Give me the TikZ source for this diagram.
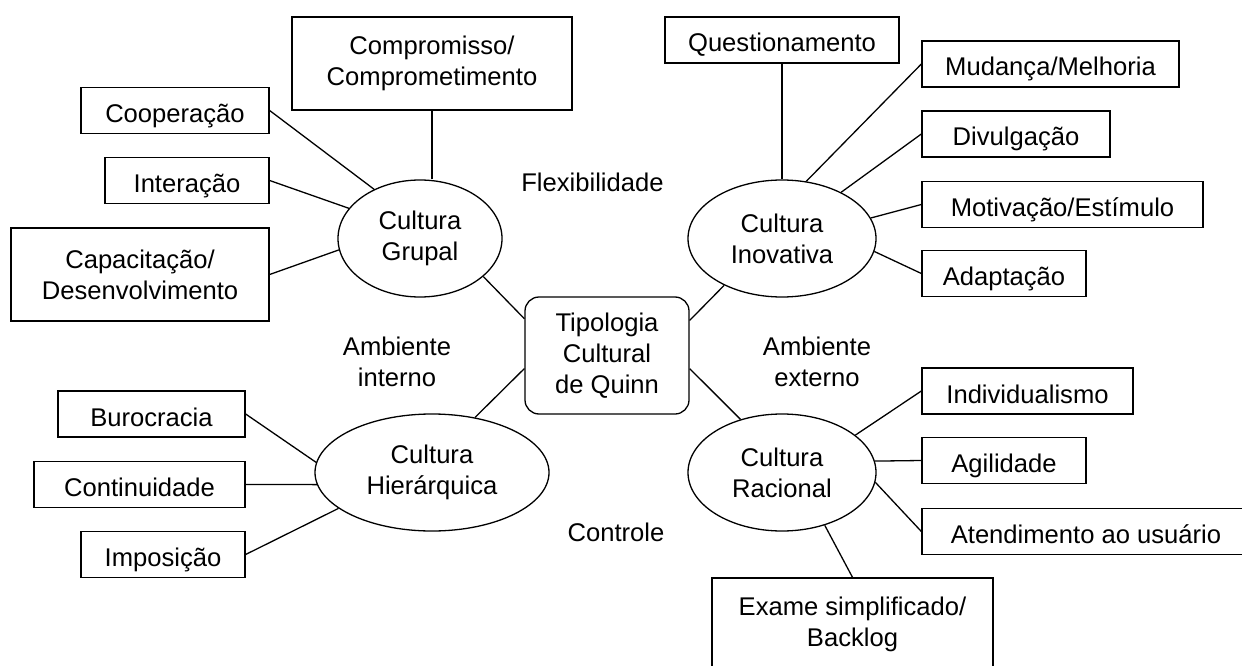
\documentclass[tikz,border=0pt]{standalone}
\usepackage{fontspec}
\setmainfont{Liberation Sans}
\usepackage{tikz}
\usetikzlibrary{shapes.geometric}

\begin{document}
\begin{tikzpicture}[x=1pt, y=-1pt, line width=1.3pt,
    every node/.style={font=\fontsize{25.6}{31}\selectfont, align=center, inner sep=0pt},
    box/.style={draw, rectangle, minimum height=46pt, text height=24pt, text depth=0pt},
    bigbox/.style={draw, rectangle, minimum height=93pt},
    cultura/.style={draw, ellipse, minimum height=117pt}]
    \useasboundingbox (0,0) rectangle (1242,666);

    % centro
    \node[draw, rectangle, rounded corners=14pt, minimum width=164pt, minimum height=117pt] (quinn) at (607,355.5) {Tipologia\\Cultural\\de Quinn};

    % as quatro culturas
    \node[cultura, minimum width=164pt] (grupal) at (420,238.5) {Cultura\\Grupal};
    \node[cultura, minimum width=188pt] (inovativa) at (782,238.5) {Cultura\\Inovativa};
    \node[cultura, minimum width=234pt] (hierarquica) at (432,472.5) {Cultura\\Hier\'arquica};
    \node[cultura, minimum width=188pt] (racional) at (782,472.5) {Cultura\\Racional};

    % eixos
    \node (flex) at (592.5,182) {Flexibilidade};
    \node (interno) at (397,361.5) {Ambiente\\interno};
    \node (externo) at (817,361.5) {Ambiente\\externo};
    \node (controle) at (616,532) {Controle};

    % grupal
    \node[bigbox, minimum width=280pt] (compromisso) at (432,63.5) {Compromisso/\\Comprometimento};
    \node[box, minimum width=188pt] (cooperacao) at (175,110.5) {Coopera\c{c}\~ao};
    \node[box, minimum width=164pt] (interacao) at (187,180.5) {Intera\c{c}\~ao};
    \node[bigbox, minimum width=258pt] (capacitacao) at (140,274.5) {Capacita\c{c}\~ao/\\Desenvolvimento};

    % inovativa
    \node[box, minimum width=234pt] (questionamento) at (782,40) {Questionamento};
    \node[box, minimum width=257pt] (mudanca) at (1050.5,64) {Mudan\c{c}a/Melhoria};
    \node[box, minimum width=188pt] (divulgacao) at (1016,134) {Divulga\c{c}\~ao};
    \node[box, minimum width=281pt] (motivacao) at (1062.5,204.5) {Motiva\c{c}\~ao/Est\'imulo};
    \node[box, minimum width=164pt] (adaptacao) at (1004,273.5) {Adapta\c{c}\~ao};

    % hierarquica
    \node[box, minimum width=187pt] (burocracia) at (151.5,414) {Burocracia};
    \node[box, minimum width=211pt] (continuidade) at (139.5,484.5) {Continuidade};
    \node[box, minimum width=164pt] (imposicao) at (163,554.5) {Imposi\c{c}\~ao};

    % racional
    \node[box, minimum width=211pt] (individualismo) at (1027.5,391) {Individualismo};
    \node[box, minimum width=164pt] (agilidade) at (1004,460.5) {Agilidade};
    \node[box, minimum width=328pt] (atendimento) at (1086,531.5) {Atendimento ao usu\'ario};
    \node[bigbox, minimum width=281pt] (exame) at (852.5,624.5) {Exame simplificado/\\Backlog};

    % ligacoes
    \draw (quinn.156) -- (grupal.-31);
    \draw (quinn.23) -- (inovativa.219);
    \draw (quinn.189) -- (hierarquica.52);
    \draw (quinn.-9) -- (racional.128);

    \draw (compromisso.south) -- (compromisso.south |- grupal.north);
    \draw (cooperacao.east) -- (grupal.133);
    \draw (interacao.east) -- (grupal.157);
    \draw (capacitacao.east) -- (grupal.188);

    \draw (questionamento) -- (inovativa);
    \draw (mudanca.west) -- (inovativa.67);
    \draw (divulgacao.west) -- (inovativa.38);
    \draw (motivacao.west) -- (inovativa.13);
    \draw (adaptacao.west) -- (inovativa.-8);

    \draw (burocracia.east) -- (hierarquica.175);
    \draw (continuidade.east) -- (hierarquica.186);
    \draw (imposicao.east) -- (hierarquica.201);

    \draw (individualismo.west) -- (racional.27);
    \draw (agilidade.west) -- (racional.7);
    \draw (atendimento.west) -- (racional.-6);
    \draw (exame.north) -- (racional.-51);
\end{tikzpicture}
\end{document}
